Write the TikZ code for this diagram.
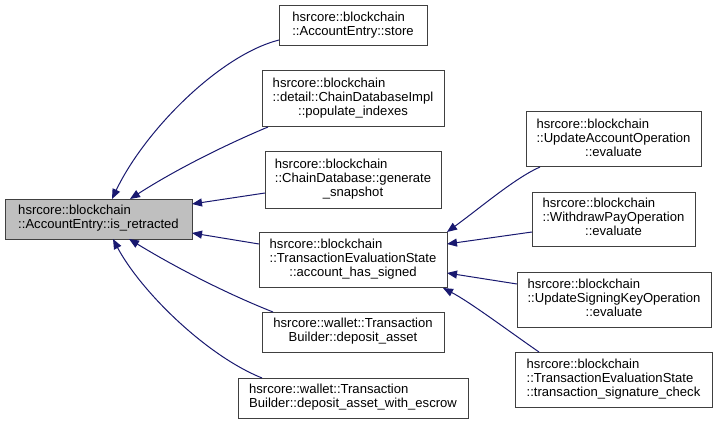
\documentclass[tikz,border=0pt]{standalone}
\usepackage{fontspec}
\setmainfont{Liberation Sans}
\usetikzlibrary{arrows.meta,calc}
\definecolor{edgeblue}{HTML}{191970}
\definecolor{boxline}{HTML}{404040}
\definecolor{curfill}{HTML}{BFBFBF}
\newcommand{\dxL}[1]{\begin{tabular}{@{}l@{}}#1\end{tabular}}
\newcommand{\dxC}[1]{\multicolumn{1}{@{}c@{}}{#1}}
\begin{document}
\begin{tikzpicture}[x=0.75pt,y=-0.75pt,
  box/.style={draw=boxline,line width=0.75pt,fill=white,inner sep=0pt,outer sep=0pt,
    font=\fontsize{9.8}{10.5}\selectfont},
  edge/.style={draw=edgeblue,line width=0.75pt,-{Triangle[length=7.5pt,width=6pt]},fill=none}]
\path[use as bounding box,fill=white] (0,0) rectangle (717,424);

\node[box,fill=curfill,minimum width=140.25pt,minimum height=30pt] (L) at (98.5,219)
  {\dxL{hsrcore::blockchain\\\dxC{::AccountEntry::is\_retracted}}};
\node[box,minimum width=111pt,minimum height=30pt] (store) at (353,26)
  {\dxL{hsrcore::blockchain\\\dxC{::AccountEntry::store}}};
\node[box,minimum width=136.5pt,minimum height=42pt] (pop) at (353,99)
  {\dxL{hsrcore::blockchain\\::detail::ChainDatabaseImpl\\\dxC{::populate\_indexes}}};
\node[box,minimum width=132pt,minimum height=42pt] (gen) at (353,180)
  {\dxL{hsrcore::blockchain\\::ChainDatabase::generate\\\dxC{\_snapshot}}};
\node[box,minimum width=141pt,minimum height=41.25pt] (ahs) at (353,259.5)
  {\dxL{hsrcore::blockchain\\::TransactionEvaluationState\\\dxC{::account\_has\_signed}}};
\node[box,minimum width=136.5pt,minimum height=30pt] (dep) at (353,332)
  {\dxL{hsrcore::wallet::Transaction\\\dxC{Builder::deposit\_asset}}};
\node[box,minimum width=172.5pt,minimum height=30pt] (esc) at (353,398)
  {\dxL{hsrcore::wallet::Transaction\\\dxC{Builder::deposit\_asset\_with\_escrow}}};
\node[box,minimum width=131.25pt,minimum height=41.25pt] (ua) at (613.5,139.5)
  {\dxL{hsrcore::blockchain\\::UpdateAccountOperation\\\dxC{::evaluate}}};
\node[box,minimum width=122.25pt,minimum height=40.5pt] (wp) at (613.5,219)
  {\dxL{hsrcore::blockchain\\::WithdrawPayOperation\\\dxC{::evaluate}}};
\node[box,minimum width=145.5pt,minimum height=41.25pt] (usk) at (614,299.5)
  {\dxL{hsrcore::blockchain\\::UpdateSigningKeyOperation\\\dxC{::evaluate}}};
\node[box,minimum width=147.75pt,minimum height=41.25pt] (tsc) at (613.5,379.5)
  {\dxL{hsrcore::blockchain\\::TransactionEvaluationState\\\dxC{::transaction\_signature\_check}}};

% edges into L
\draw[edge] ($(store.south west)+(0,-6)$) .. controls (220,55) and (145,130) .. ($(L.north west)+(107,0)$);
\draw[edge] ($(pop.south west)+(6,0)$) .. controls (225,145) and (175,170) .. ($(L.north west)+(125,0)$);
\draw[edge] ($(gen.west)+(0,13)$) -- ($(L.east)+(0,-15)$);
\draw[edge] ($(ahs.west)+(0,-15.5)$) -- ($(L.east)+(0,14)$);
\draw[edge] ($(dep.north west)+(11,0)$) .. controls (230,295) and (180,270) .. ($(L.south west)+(124,0)$);
\draw[edge] ($(esc.north west)+(24,0)$) .. controls (205,355) and (140,290) .. ($(L.south west)+(108,0)$);
% edges into ahs
\draw[edge] ($(ua.south west)+(14,0)$) .. controls (515,178) and (480,208) .. (ahs.north east);
\draw[edge] ($(wp.west)+(0,13)$) -- ($(ahs.east)+(0,-15.5)$);
\draw[edge] ($(usk.west)+(0,-15.5)$) -- ($(ahs.east)+(0,13.5)$);
\draw[edge] ($(tsc.north west)+(24,0)$) .. controls (510,332) and (470,302) .. ($(ahs.south east)+(-4,1)$);
\end{tikzpicture}
\end{document}
